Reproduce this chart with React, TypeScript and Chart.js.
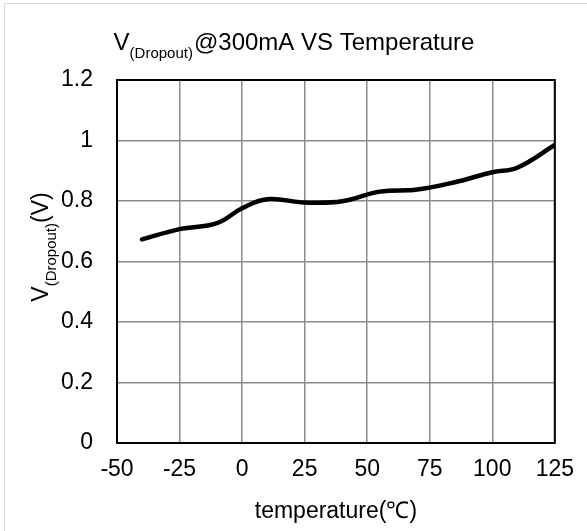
import React, { useEffect, useRef } from "react";
import { Chart, registerables } from "chart.js";

Chart.register(...registerables);

const temps = [-40, -25, -10, 0, 10, 25, 40, 55, 70, 85, 100, 110, 125];
const vdrop = [0.673, 0.707, 0.727, 0.776, 0.806, 0.795, 0.799, 0.831, 0.838, 0.862, 0.895, 0.91, 0.985];
const xTicks = [-50, -25, 0, 25, 50, 75, 100, 125];
const yTicks = [0, 0.2, 0.4, 0.6, 0.8, 1, 1.2];

const FONT = "Arial, 'Liberation Sans', sans-serif";

const textPlugin = {
  id: "texts",
  afterDraw(chart: any) {
    const ctx = chart.ctx as CanvasRenderingContext2D;
    const a = chart.chartArea;
    ctx.save();
    // outer frame
    ctx.strokeStyle = "#d9d9d9";
    ctx.lineWidth = 1;
    ctx.beginPath();
    ctx.moveTo(4.5, 700);
    ctx.lineTo(4.5, 3.5);
    ctx.lineTo(700, 3.5);
    ctx.stroke();
    // plot border
    ctx.strokeStyle = "#000";
    ctx.lineWidth = 2;
    ctx.strokeRect(a.left, a.top, a.right - a.left, a.bottom - a.top);

    ctx.fillStyle = "#000";
    ctx.textBaseline = "alphabetic";
    ctx.textAlign = "left";
    // title
    const big = `24px ${FONT}`;
    const small = `15px ${FONT}`;
    ctx.font = big;
    const w1 = ctx.measureText("V").width;
    const w3 = ctx.measureText("@300mA VS Temperature").width;
    ctx.font = small;
    const w2 = ctx.measureText("(Dropout)").width;
    let x = 293.5 - (w1 + w2 + w3) / 2;
    const by = 50;
    ctx.font = big;
    ctx.fillText("V", x, by);
    x += w1;
    ctx.font = small;
    ctx.fillText("(Dropout)", x, by + 8);
    x += w2 + 1;
    ctx.font = big;
    ctx.fillText("@300mA VS Temperature", x, by);

    // y-axis title (rotated)
    const ybig = `23px ${FONT}`;
    ctx.save();
    ctx.translate(48, 247);
    ctx.rotate(-Math.PI / 2);
    ctx.font = ybig;
    const y1 = ctx.measureText("V").width;
    const y3 = ctx.measureText("(V)").width;
    ctx.font = small;
    const y2 = ctx.measureText("(Dropout)").width;
    let px = -(y1 + y2 + y3) / 2;
    ctx.font = ybig;
    ctx.fillText("V", px, 0);
    px += y1;
    ctx.font = small;
    ctx.fillText("(Dropout)", px, 8);
    px += y2;
    ctx.font = ybig;
    ctx.fillText("(V)", px, 0);
    ctx.restore();

    // x-axis title
    ctx.font = ybig;
    ctx.textAlign = "center";
    ctx.fillText("temperature(℃)", (a.left + a.right) / 2, 518);
    ctx.restore();
  },
};

export default function App() {
  const ref = useRef<HTMLCanvasElement | null>(null);
  useEffect(() => {
    document.body.style.margin = "0";
    const canvas = ref.current!;
    const chart = new Chart(canvas, {
      type: "line",
      data: {
        datasets: [
          {
            data: temps.map((t, i) => ({ x: t, y: vdrop[i] })),
            borderColor: "#000",
            borderWidth: 4.5,
            borderCapStyle: "round",
            pointRadius: 0,
            tension: 0.4,
            fill: false,
          },
        ],
      },
      options: {
        animation: false,
        responsive: false,
        maintainAspectRatio: false,
        layout: { padding: { left: 0, right: 28, top: 80, bottom: 0 } },
        plugins: { legend: { display: false }, tooltip: { enabled: false }, title: { display: false } },
        scales: {
          x: {
            type: "linear",
            min: -50,
            max: 125,
            afterBuildTicks: (s: any) => {
              s.ticks = xTicks.map((v) => ({ value: v }));
            },
            afterFit: (s: any) => {
              s.height = 88;
            },
            grid: { color: "#8c8c8c", lineWidth: 1.5, drawTicks: false },
            border: { display: false },
            ticks: { color: "#000", font: { family: FONT, size: 23 }, padding: 13, maxRotation: 0 },
          },
          y: {
            type: "linear",
            min: 0,
            max: 1.2,
            afterBuildTicks: (s: any) => {
              s.ticks = yTicks.map((v) => ({ value: v }));
            },
            afterFit: (s: any) => {
              s.width = 117;
            },
            grid: { color: "#8c8c8c", lineWidth: 1.5, drawTicks: false },
            border: { display: false },
            ticks: {
              color: "#000",
              font: { family: FONT, size: 23 },
              padding: 24,
              callback: (v: any) => String(Math.round(Number(v) * 10) / 10),
            },
          },
        },
      },
      plugins: [textPlugin],
    });
    return () => chart.destroy();
  }, []);
  return (
    <div style={{ position: "fixed", left: 0, top: 0, width: 587, height: 531, background: "#fff" }}>
      <canvas ref={ref} width={587} height={531} style={{ width: 587, height: 531, display: "block" }} />
    </div>
  );
}
